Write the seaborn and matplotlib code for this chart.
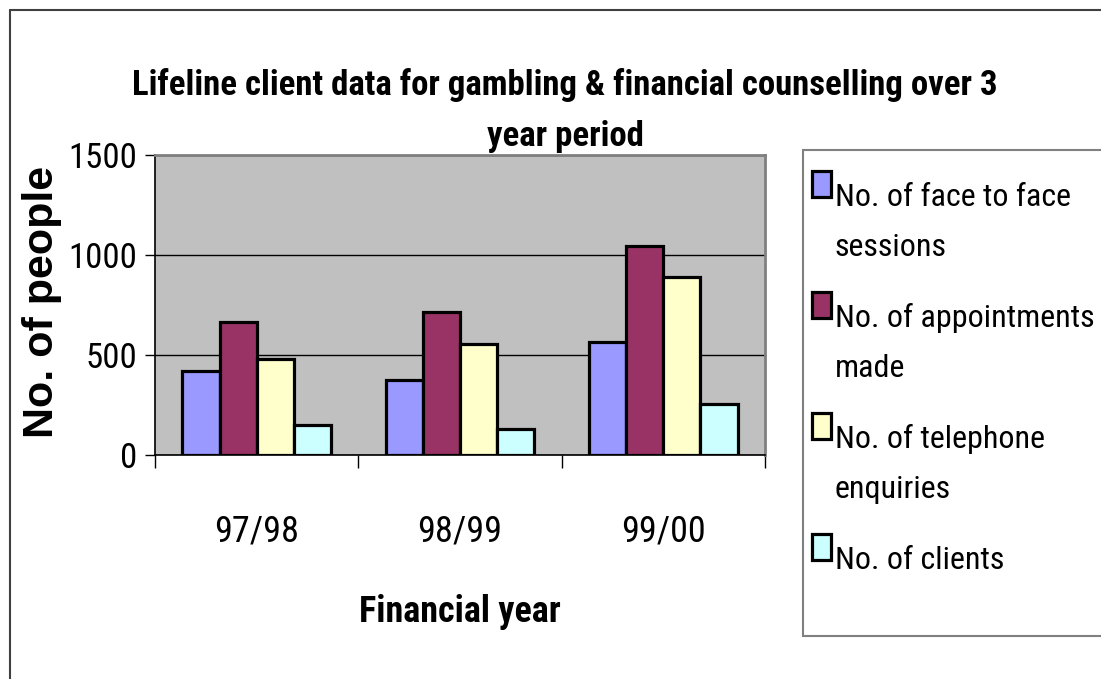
import matplotlib
matplotlib.use("Agg")
import matplotlib.pyplot as plt
import seaborn as sns
import pandas as pd
from matplotlib.patches import Rectangle
from matplotlib.lines import Line2D

# ---- data ----
years = ["97/98", "98/99", "99/00"]
series = ["No. of face to face\nsessions", "No. of appointments\nmade",
          "No. of telephone\nenquiries", "No. of clients"]
face_to_face = [420, 375, 565]
appointments = [665, 715, 1045]
telephone = [480, 555, 890]
clients = [150, 130, 255]
colors = ["#9999FF", "#993366", "#FFFFCC", "#CCFFFF"]
yticks = [0, 500, 1000, 1500]
title = "Lifeline client data for gambling & financial counselling over 3\nyear period"
xlabel = "Financial year"
ylabel = "No. of people"

W, H = 1101, 679
sns.set_theme(style="white")
COND = ["Roboto Condensed", "Liberation Sans", "DejaVu Sans"]
plt.rcParams["font.family"] = COND
for k in ["text.color", "axes.labelcolor", "xtick.color", "ytick.color"]:
    plt.rcParams[k] = "black"

values = [face_to_face, appointments, telephone, clients]
df = pd.DataFrame({
    "year": [y for s in series for y in years],
    "series": [s for s in series for _ in years],
    "value": [v for vals in values for v in vals],
})

fig = plt.figure(figsize=(W / 100, H / 100), dpi=100)
fig.patch.set_facecolor("white")


def fx(x):
    return x / W


def fy(y):
    return 1 - y / H


ax = fig.add_axes([fx(155), fy(455), (765 - 155) / W, (455 - 155) / H])
ax.set_facecolor("#C0C0C0")
ax.set_axisbelow(True)
ax.yaxis.grid(True, color="black", lw=1)

sns.barplot(data=df, x="year", y="value", hue="series", order=years,
            hue_order=series, palette=colors, saturation=1, width=0.73,
            edgecolor="black", linewidth=2.3, legend=False, errorbar=None, ax=ax)

ax.set_xlim(-0.5, 2.5)
ax.set_ylim(0, 1500)
ax.set_yticks(yticks)
ax.set_yticklabels([str(t) for t in yticks], fontsize=25)

ax.set_xticks([-0.5, 0.5, 1.5, 2.5])
ax.set_xticklabels([])
ax.set_xticks([0, 1, 2], minor=True)
ax.set_xticklabels(years, minor=True, fontsize=26)
ax.tick_params(axis="x", which="major", bottom=True, length=9, width=1,
               color="black", direction="out")
ax.tick_params(axis="x", which="minor", bottom=True, length=0, pad=42)
ax.tick_params(axis="y", left=True, length=7, width=1, pad=6,
               color="black", direction="out")

for side in ["top", "right"]:
    ax.spines[side].set_color("#808080")
    ax.spines[side].set_linewidth(2)
for side in ["left", "bottom"]:
    ax.spines[side].set_color("black")
    ax.spines[side].set_linewidth(1.2)

ax.set_xlabel(xlabel, fontsize=26, fontweight="bold", va="center")
ax.xaxis.set_label_coords(0.5, (455 - 612) / 300)
ax.set_ylabel(ylabel, fontsize=31, fontweight="bold", va="center",
              fontfamily=["Liberation Sans", "DejaVu Sans"])
ax.yaxis.set_label_coords((42 - 155) / 610, (455 - 302) / 300)

# title (two lines)
t_lines = title.split("\n")
for line, base in zip(t_lines, [95, 146]):
    fig.text(fx(565), fy(base), line, ha="center", va="baseline",
             fontsize=25, fontweight="bold")

# legend (drawn manually so the key sits on the first line)
fig.add_artist(Rectangle((fx(803), fy(636)), fx(1115) - fx(803), fy(150) - fy(636),
                         transform=fig.transFigure, facecolor="white",
                         edgecolor="#808080", lw=1.5, clip_on=False))
for k, (lab, col) in enumerate(zip(series, colors)):
    top = 171 + 121 * k
    fig.add_artist(Rectangle((fx(812), fy(top + 26)), fx(831) - fx(812), fy(top) - fy(top + 26),
                             transform=fig.transFigure, facecolor=col,
                             edgecolor="black", lw=2.3))
    for j, line in enumerate(lab.split("\n")):
        fig.text(fx(835), fy(206 + 121 * k + 50 * j), line, ha="left",
                 va="baseline", fontsize=23)

# outer frame
fig.add_artist(Line2D([fx(10), fx(10)], [fy(10), fy(700)], transform=fig.transFigure,
                      color="#404040", lw=1.5))
fig.add_artist(Line2D([fx(10), fx(1120)], [fy(10), fy(10)], transform=fig.transFigure,
                      color="#404040", lw=1.5))

fig.savefig("out.png", dpi=100, facecolor="white")
